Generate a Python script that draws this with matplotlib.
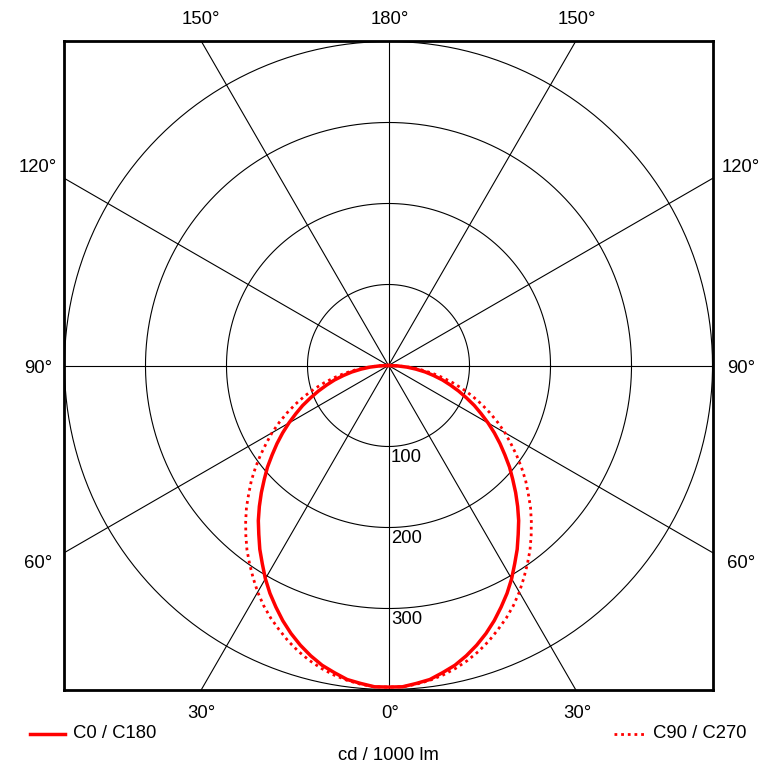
import numpy as np
import matplotlib.pyplot as plt
from matplotlib.lines import Line2D

plt.rcParams['font.family'] = ['Liberation Sans', 'DejaVu Sans']

# gamma angles (deg) and intensities (cd / 1000 lm)
gamma = [0, 2.5, 5, 7.5, 10, 12.5, 15, 17.5, 20, 22.5, 25, 27.5, 30, 32.5, 35, 37.5,
         40, 42.5, 45, 47.5, 50, 52.5, 55, 57.5, 60, 62.5, 65, 67.5, 70, 72.5, 75,
         77.5, 80, 82.5, 85, 87.5, 90]
c0_c180 = [397, 397, 394, 391, 385, 379, 371, 362, 352, 341, 329, 317, 304, 290, 277, 263,
           250, 236, 222, 208, 195, 181, 168, 155, 142, 129, 117, 104, 92, 80, 69,
           57, 46, 34, 23, 11, 0]
c90_c270 = [397, 397, 395, 392, 388, 383, 377, 370, 362, 353, 344, 334, 323, 311, 299, 287,
            274, 261, 248, 234, 221, 207, 193, 179, 166, 152, 138, 124, 110, 96, 82,
            68, 55, 41, 27, 14, 0]

rings = [100, 200, 300, 400]
ring_labels = ['100', '200', '300']
spokes = [0, 30, 60, 90, 120, 150]

W, H = 776, 774
FS = 13.3
fig = plt.figure(figsize=(W / 100, H / 100), dpi=100)
ax = fig.add_axes([64 / W, 1 - 690 / H, 649 / W, 649 / H])
lim = 400.6
ax.set_xlim(-lim, lim)
ax.set_ylim(-lim, lim)
ax.set_aspect('equal')
ax.set_xticks([])
ax.set_yticks([])
for s in ax.spines.values():
    s.set_linewidth(2)

t = np.linspace(0, 2 * np.pi, 400)
for r in rings:
    ax.plot(r * np.cos(t), r * np.sin(t), color='black', lw=0.8, zorder=1)
for a in spokes:
    ar = np.radians(a)
    L = 1000
    ax.plot([-L * np.sin(ar), L * np.sin(ar)], [-L * np.cos(ar), L * np.cos(ar)],
            color='black', lw=0.8, zorder=1)

for r, lab in zip(rings, ring_labels):
    ax.text(3, -r - 3, lab, ha='left', va='top', fontsize=FS, zorder=2)


def curve(vals):
    g = np.radians(np.array(gamma, dtype=float))
    v = np.array(vals, dtype=float)
    g = np.concatenate([-g[::-1], g[1:]])
    v = np.concatenate([v[::-1], v[1:]])
    return v * np.sin(g), -v * np.cos(g)


x, y = curve(c0_c180)
ax.plot(x, y, color='red', lw=2.5, zorder=3, solid_joinstyle='round')
x, y = curve(c90_c270)
ax.plot(x, y, color='red', lw=2, ls=(0, (1, 1.4)), zorder=3)


def ftext(px, py, s, ha='center'):
    fig.text(px / W, 1 - py / H, s, ha=ha, va='center', fontsize=FS)


ftext(390, 20, '180°')
ftext(201, 20, '150°')
ftext(577, 20, '150°')
for yy, lab in [(167, '120°'), (369, '90°'), (563, '60°')]:
    ftext(38, yy, lab)
    ftext(741, yy, lab)
ftext(201, 713, '30°')
ftext(390, 713, '0°')
ftext(577, 713, '30°')

fig.add_artist(Line2D([30 / W, 65 / W], [1 - 734 / H] * 2, color='red', lw=2.5))
ftext(73, 734, 'C0 / C180', ha='left')
fig.add_artist(Line2D([614 / W, 646 / W], [1 - 734 / H] * 2, color='red', lw=2,
                      ls=(0, (1, 1.4))))
ftext(653, 734, 'C90 / C270', ha='left')
ftext(388, 755, 'cd / 1000 lm')

fig.savefig('out.png', dpi=100)
